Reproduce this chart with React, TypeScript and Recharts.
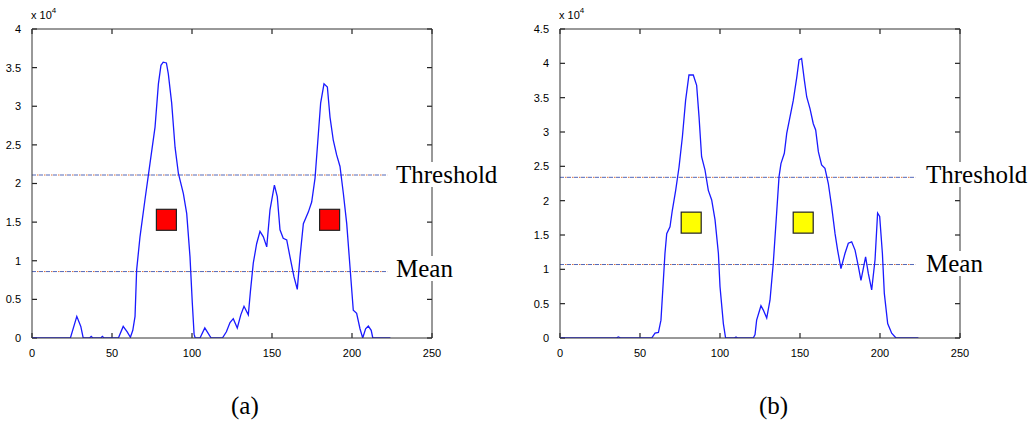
import React from 'react';
import { ComposedChart, Line, Scatter, XAxis, YAxis, ReferenceLine } from 'recharts';

// histogram bins (x) and counts (in units of 1e4)
const binsA = [0, 24, 28, 30.5, 32, 36, 37, 38, 43, 44, 45, 54, 57, 59.5, 61.5, 63, 64.4, 65.4, 67.5, 70.6, 73.75, 76.9, 79, 80.6, 82, 84, 85.2, 87.3, 89.4, 91.5, 94.6, 96.7, 98.75, 100.2, 101.3, 102, 105, 108, 111, 112, 119, 121.5, 123.75, 125.8, 128.3, 130.5, 132.5, 135.2, 136.5, 138.3, 140.4, 142.5, 144.6, 146.7, 148.75, 151.5, 153.3, 155, 157, 159.2, 161.25, 163.75, 165.8, 167.5, 169.6, 172.7, 174.8, 176.9, 179, 180.4, 182.5, 184.6, 186.25, 188.3, 190.4, 192.5, 194.6, 196.7, 198.75, 200.8, 202.9, 205, 206.7, 208.5, 210.2, 212, 213, 224];
const countsA = [0, 0, 0.28, 0.15, 0, 0, 0.02, 0, 0, 0.02, 0, 0, 0.15, 0.08, 0.01, 0.1, 0.28, 0.88, 1.31, 1.79, 2.26, 2.73, 3.29, 3.53, 3.57, 3.56, 3.42, 3.04, 2.47, 2.13, 1.87, 1.61, 1.05, 0.45, 0.05, 0, 0, 0.13, 0.03, 0, 0, 0.08, 0.2, 0.25, 0.13, 0.3, 0.41, 0.3, 0.6, 0.97, 1.22, 1.38, 1.31, 1.18, 1.66, 1.98, 1.83, 1.4, 1.29, 1.27, 1.05, 0.79, 0.63, 1.05, 1.48, 1.63, 1.76, 2.07, 2.65, 3.04, 3.29, 3.25, 2.86, 2.56, 2.37, 2.22, 1.87, 1.48, 0.92, 0.36, 0.32, 0.12, 0, 0.12, 0.155, 0.1, 0, 0];

const binsB = [0, 35, 36.5, 38, 57.3, 59.4, 61.5, 63.1, 64.6, 65.6, 66.7, 68.75, 70.2, 72.3, 74.4, 76.5, 78.5, 80.6, 83.3, 85.4, 86.9, 88.5, 90.6, 92.7, 94.8, 96.9, 99, 100, 102.1, 103.5, 109, 110, 111, 120.8, 121.9, 122.9, 125.6, 127, 129.2, 131.25, 133.3, 135.4, 136.9, 138.1, 140.2, 141.7, 143.75, 145.8, 148, 149.4, 151, 152.7, 154.2, 156.25, 158.3, 159.8, 161.5, 163.5, 165.6, 167.7, 169.8, 171.9, 173.5, 175.6, 178.1, 180.2, 182.3, 184.4, 186.5, 188.1, 189.8, 191, 192.7, 194.8, 196.9, 198.5, 199.8, 201.5, 202.7, 204.8, 207.3, 210, 224];
const countsB = [0, 0, 0.015, 0, 0, 0.07, 0.08, 0.26, 0.84, 1.23, 1.52, 1.62, 1.86, 2.15, 2.49, 2.93, 3.46, 3.83, 3.83, 3.68, 3.22, 2.64, 2.45, 2.15, 2.01, 1.72, 1.23, 0.75, 0.21, 0, 0, 0.015, 0, 0, 0.05, 0.26, 0.47, 0.41, 0.29, 0.55, 1.09, 1.82, 2.35, 2.54, 2.69, 2.98, 3.22, 3.46, 3.8, 4.05, 4.07, 3.76, 3.51, 3.34, 3.12, 3.03, 2.71, 2.52, 2.47, 2.25, 1.91, 1.52, 1.28, 1.01, 1.23, 1.38, 1.4, 1.28, 1.04, 0.84, 1.04, 1.18, 0.94, 0.7, 1.14, 1.82, 1.77, 1.23, 0.65, 0.21, 0.07, 0, 0];

const xTicks = [0, 50, 100, 150, 200, 250];
const yTicksA = [0, 0.5, 1, 1.5, 2, 2.5, 3, 3.5, 4];
const yTicksB = [0, 0.5, 1, 1.5, 2, 2.5, 3, 3.5, 4, 4.5];

const thresholdA = 2.11;
const meanA = 0.86;
const thresholdB = 2.34;
const meanB = 1.07;
const levelEnd = 222;

const markBinsA = [84, 186];
const markLevelA = 1.53;
const markBinsB = [82, 152];
const markLevelB = 1.68;

const tickFont = { fontSize: 11, fontFamily: 'Liberation Sans, Arial, sans-serif', fill: '#000' };
const axisColor = '#333';
const TICK = 5;

// inward tick marks at both ends of a full-height / full-width reference line
const vTick = (p: any) => {
  const top = Math.min(p.y1, p.y2);
  const bot = Math.max(p.y1, p.y2);
  return (
    <g stroke="#222" strokeWidth={1.2}>
      <line x1={p.x1} x2={p.x1} y1={top} y2={top + TICK} />
      <line x1={p.x1} x2={p.x1} y1={bot} y2={bot - TICK} />
    </g>
  );
};
const hTick = (p: any) => {
  const left = Math.min(p.x1, p.x2);
  const right = Math.max(p.x1, p.x2);
  return (
    <g stroke="#222" strokeWidth={1.2}>
      <line y1={p.y1} y2={p.y1} x1={left} x2={left + TICK} />
      <line y1={p.y1} y2={p.y1} x1={right} x2={right - TICK} />
    </g>
  );
};

type PanelProps = {
  bins: number[];
  counts: number[];
  yTicks: number[];
  threshold: number;
  mean: number;
  markBins: number[];
  markLevel: number;
  markColor: string;
  marginLeft: number;
  marginRight: number;
};

const Panel = ({ bins, counts, yTicks, threshold, mean, markBins, markLevel, markColor, marginLeft, marginRight }: PanelProps) => {
  const curve = bins.map((x, i) => ({ x, v: counts[i] }));
  const marks = markBins.map(x => ({ x, v: markLevel }));
  const yMax = yTicks[yTicks.length - 1];
  const xMax = xTicks[xTicks.length - 1];
  const xDom: [number, number] = [0, xMax];
  const yDom: [number, number] = [0, yMax];

  const square = (p: any) => (
    <rect x={p.cx - 10} y={p.cy - 10.5} width={20} height={21} fill={markColor} stroke="#222" strokeWidth={1.2} />
  );

  const levelLines = (y: number) => [
    <ReferenceLine key={`a${y}`} segment={[{ x: 0, y }, { x: levelEnd, y }]} stroke="#5468b8" strokeWidth={1} strokeDasharray="4 3" />,
    <ReferenceLine key={`b${y}`} segment={[{ x: 0, y }, { x: levelEnd, y }]} stroke="#d8703c" strokeWidth={1} strokeDasharray="1.5 5.5" strokeDashoffset={-5} />,
  ];

  return (
    <ComposedChart width={517} height={380} margin={{ top: 29, left: marginLeft, right: marginRight, bottom: 22 }}>
      <XAxis dataKey="x" type="number" domain={xDom} ticks={xTicks} interval={0} allowDataOverflow
        height={20} tickLine={false} tickMargin={5} tick={tickFont} stroke={axisColor} />
      <YAxis type="number" domain={yDom} ticks={yTicks} interval={0} allowDataOverflow
        width={30} tickLine={false} tickMargin={5} tick={tickFont} stroke={axisColor} />
      <XAxis xAxisId="top" orientation="top" type="number" domain={xDom} ticks={xTicks} interval={0} allowDataOverflow mirror
        height={10} tickLine={false} tick={false} stroke={axisColor} />
      <YAxis yAxisId="right" orientation="right" type="number" domain={yDom} ticks={yTicks} interval={0} allowDataOverflow mirror
        width={10} tickLine={false} tick={false} stroke={axisColor} />
      {xTicks.map(t => <ReferenceLine key={`vx${t}`} x={t} ifOverflow="visible" shape={vTick} />)}
      {yTicks.map(t => <ReferenceLine key={`hy${t}`} y={t} ifOverflow="visible" shape={hTick} />)}
      {levelLines(threshold)}
      {levelLines(mean)}
      <Line data={curve} dataKey="v" type="linear" stroke="#1a1aff" strokeWidth={1.3} dot={false} isAnimationActive={false} />
      <Scatter data={marks} dataKey="v" shape={square} isAnimationActive={false} />
    </ComposedChart>
  );
};

const serif = { fontFamily: '"Liberation Serif", "Times New Roman", serif', fontSize: 25, lineHeight: '25px', color: '#000' };

const Tag = ({ left, top, children, bg = true }: { left: number; top: number; children: React.ReactNode; bg?: boolean }) => (
  <div style={{ position: 'absolute', left, top, ...serif, background: bg ? '#fff' : 'transparent', padding: '0 2px', whiteSpace: 'nowrap' }}>
    {children}
  </div>
);

const Scale = ({ left }: { left: number }) => (
  <div style={{ position: 'absolute', left, top: 9, fontFamily: 'Liberation Sans, Arial, sans-serif', fontSize: 11, color: '#000', whiteSpace: 'nowrap' }}>
    x 10<sup style={{ fontSize: 8, verticalAlign: 'top', position: 'relative', top: -3 }}>4</sup>
  </div>
);

export default function App() {
  return (
    <div style={{ position: 'relative', width: 1034, height: 422, background: '#fff', overflow: 'hidden' }}>
      <style>{'body{margin:0}'}</style>
      <div style={{ position: 'absolute', left: 0, top: 0 }}>
        <Panel bins={binsA} counts={countsA} yTicks={yTicksA} threshold={thresholdA} mean={meanA}
          markBins={markBinsA} markLevel={markLevelA} markColor="#ff0000" marginLeft={2} marginRight={85} />
      </div>
      <div style={{ position: 'absolute', left: 517, top: 0 }}>
        <Panel bins={binsB} counts={countsB} yTicks={yTicksB} threshold={thresholdB} mean={meanB}
          markBins={markBinsB} markLevel={markLevelB} markColor="#ffff00" marginLeft={13} marginRight={74} />
      </div>
      <Scale left={31} />
      <Scale left={559} />
      <Tag left={394} top={162}>Threshold</Tag>
      <Tag left={394} top={256}>Mean</Tag>
      <Tag left={924} top={162}>Threshold</Tag>
      <Tag left={924} top={251}>Mean</Tag>
      <Tag left={229} top={393} bg={false}>(a)</Tag>
      <Tag left={757} top={393} bg={false}>(b)</Tag>
    </div>
  );
}
